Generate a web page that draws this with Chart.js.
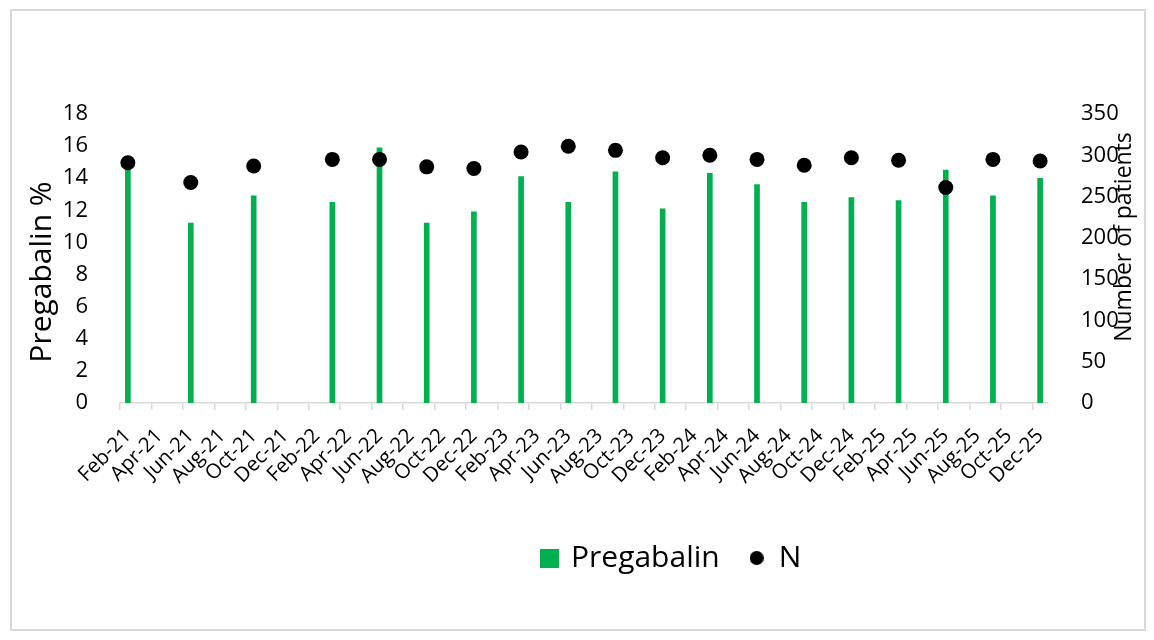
<!DOCTYPE html>
<html>
<head>
<meta charset="utf-8">
<script src="https://cdn.jsdelivr.net/npm/chart.js@4.4.1/dist/chart.umd.min.js"></script>
<style>
  html, body { margin: 0; padding: 0; background: #fff; }
  canvas { display: block; }
</style>
</head>
<body>
<canvas id="graficoPregabalin" width="1154" height="640"></canvas>
<script>
// every month on the axis (Excel date axis, one slot per month)
const months = [
  'Feb-21','Mar-21','Apr-21','May-21','Jun-21','Jul-21','Aug-21','Sep-21','Oct-21','Nov-21','Dec-21',
  'Jan-22','Feb-22','Mar-22','Apr-22','May-22','Jun-22','Jul-22','Aug-22','Sep-22','Oct-22','Nov-22','Dec-22',
  'Jan-23','Feb-23','Mar-23','Apr-23','May-23','Jun-23','Jul-23','Aug-23','Sep-23','Oct-23','Nov-23','Dec-23',
  'Jan-24','Feb-24','Mar-24','Apr-24','May-24','Jun-24','Jul-24','Aug-24','Sep-24','Oct-24','Nov-24','Dec-24',
  'Jan-25','Feb-25','Mar-25','Apr-25','May-25','Jun-25','Jul-25','Aug-25','Sep-25','Oct-25','Nov-25','Dec-25'
];

// months that have a measurement
const surveyMonths = ['Feb-21','Jun-21','Oct-21','Mar-22','Jun-22','Sep-22','Dec-22','Mar-23','Jun-23','Sep-23',
  'Dec-23','Mar-24','Jun-24','Sep-24','Dec-24','Mar-25','Jun-25','Sep-25','Dec-25'];
const pregabalinPct = [15.0, 11.2, 12.9, 12.5, 15.9, 11.2, 11.9, 14.1, 12.5, 14.4,
  12.1, 14.3, 13.6, 12.5, 12.8, 12.6, 14.5, 12.9, 14.0];
const patientsN = [291, 267, 287, 295, 295, 286, 284, 304, 311, 306,
  297, 300, 295, 288, 297, 294, 261, 295, 293];

const fonte = "'Open Sans', sans-serif";
const verde = '#00B050';
const cinza = '#d9d9d9';

function makeIcon(size, draw) {
  const c = document.createElement('canvas');
  c.width = size; c.height = size;
  draw(c.getContext('2d'), size);
  return c;
}
const greenSquare = makeIcon(19, (g, s) => { g.fillStyle = verde; g.fillRect(0, 0, s, s); });
const blackDot = makeIcon(14, (g, s) => {
  g.fillStyle = '#000'; g.beginPath(); g.arc(s / 2, s / 2, s / 2, 0, 2 * Math.PI); g.fill();
});

// frame + axis titles (right title reads bottom-to-top like the left one)
const extras = {
  id: 'extras',
  beforeDraw(chart) {
    const c = chart.ctx;
    c.save();
    c.fillStyle = '#fff';
    c.fillRect(0, 0, chart.width, chart.height);
    c.strokeStyle = cinza;
    c.lineWidth = 2;
    c.strokeRect(11, 10, 1134, 620);
    c.restore();
  },
  afterLayout(chart) {
    // move legend to the right, as in the original
    const lg = chart.legend;
    const pad = lg.options.labels.padding;
    const startX = (lg.left + pad + lg.right - lg.lineWidths[0]) / 2;
    const dx = 542 - startX;
    lg.left += dx;
    lg.right += dx;
  },
  afterDraw(chart) {
    const c = chart.ctx;
    c.save();
    c.fillStyle = '#000';
    c.textAlign = 'center';
    c.textBaseline = 'middle';
    c.font = '30px ' + fonte;
    c.translate(42, 272);
    c.rotate(-Math.PI / 2);
    c.fillText('Pregabalin %', 0, 0);
    c.restore();
    c.save();
    c.fillStyle = '#000';
    c.textAlign = 'center';
    c.textBaseline = 'middle';
    c.font = '23px ' + fonte;
    c.translate(1124, 237);
    c.rotate(-Math.PI / 2);
    c.fillText('Number of patients', 0, 0);
    c.restore();
  }
};

const ctx = document.getElementById('graficoPregabalin').getContext('2d');
new Chart(ctx, {
  type: 'bar',
  data: {
    labels: months,
    datasets: [{
      label: 'Pregabalin',
      data: surveyMonths.map((m, i) => ({ x: m, y: pregabalinPct[i] })),
      backgroundColor: verde,
      barThickness: 5,
      yAxisID: 'y',
      order: 2
    }, {
      type: 'line',
      label: 'N',
      data: surveyMonths.map((m, i) => ({ x: m, y: patientsN[i] })),
      showLine: false,
      pointRadius: 7.5,
      pointBackgroundColor: '#000',
      pointBorderWidth: 0,
      yAxisID: 'y1',
      order: 1
    }]
  },
  options: {
    responsive: false,
    animation: false,
    devicePixelRatio: 1,
    layout: { padding: { top: 114, bottom: 57, left: 0, right: 0 } },
    plugins: {
      tooltip: { enabled: false },
      legend: {
        position: 'bottom',
        labels: {
          usePointStyle: true,
          pointStyleWidth: 14,
          boxHeight: 19,
          padding: 30,
          color: '#000',
          font: { family: fonte, size: 30 },
          generateLabels: () => [
            { text: 'Pregabalin', pointStyle: greenSquare, fillStyle: verde, strokeStyle: verde,
              lineWidth: 0, hidden: false, datasetIndex: 0, fontColor: '#000' },
            { text: 'N', pointStyle: blackDot, fillStyle: '#000', strokeStyle: '#000',
              lineWidth: 0, hidden: false, datasetIndex: 1, fontColor: '#000' }
          ]
        }
      }
    },
    scales: {
      x: {
        offset: true,
        grid: {
          display: true,
          drawOnChartArea: false,
          offset: true,
          tickLength: 7,
          lineWidth: 1.5,
          color: c => (c.index % 2 === 0 ? cinza : 'rgba(0,0,0,0)')
        },
        border: { display: true, color: cinza, width: 1.5 },
        ticks: {
          autoSkip: false,
          minRotation: 45,
          maxRotation: 45,
          padding: 14,
          color: '#000',
          font: { family: fonte, size: 20.5 },
          callback: function (val, i) { return i % 2 === 0 ? this.getLabelForValue(val) : ''; }
        },
        afterFit: s => { s.height = 110; }
      },
      y: {
        position: 'left',
        min: 0,
        max: 18,
        grid: { display: false },
        border: { display: false },
        ticks: { stepSize: 2, padding: 24, color: '#000', font: { family: fonte, size: 22 } },
        afterFit: s => { s.width = 120; }
      },
      y1: {
        position: 'right',
        min: 0,
        max: 350,
        grid: { display: false },
        border: { display: false },
        ticks: { stepSize: 50, padding: 25, color: '#000', font: { family: fonte, size: 22 } },
        afterFit: s => { s.width = 106; }
      }
    }
  },
  plugins: [extras]
});
</script>
</body>
</html>
